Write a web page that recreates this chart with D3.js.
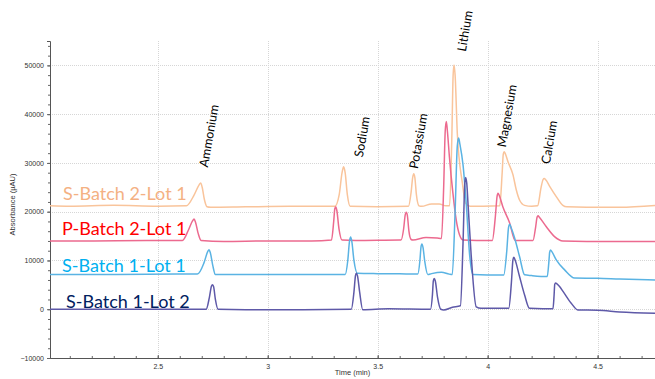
<!DOCTYPE html>
<html>
<head>
<meta charset="utf-8">
<script src="https://cdn.jsdelivr.net/npm/d3@7"></script>
<style>
  html, body { margin: 0; padding: 0; background: #fff; }
  svg { display: block; }
</style>
</head>
<body>
<svg id="chart" width="655" height="379"></svg>
<script>
// Sample names (drawn as labels next to each trace)
const sampleNames = ["S-Batch 2-Lot 1", "P-Batch 2-Lot 1", "S-Batch 1-Lot 1", "S-Batch 1-Lot 2"];

// [time (min), absorbance (µAU)]
const sBatch2Lot1 = [
  [2.01, 21200], [2.10, 21100], [2.30, 21300], [2.50, 21100], [2.63, 21200],
  [2.665, 23400], [2.688, 25500], [2.695, 25900], [2.702, 25000], [2.712, 22500], [2.724, 21000], [2.74, 20900],
  [2.90, 21000], [3.10, 21100], [3.305, 21100],
  [3.325, 23500], [3.338, 28000], [3.345, 29200], [3.352, 28000], [3.362, 23500], [3.375, 21100],
  [3.50, 21000], [3.64, 21100],
  [3.652, 24000], [3.659, 27000], [3.664, 27800], [3.669, 27000], [3.676, 23500], [3.688, 21200],
  [3.70, 21100], [3.745, 21600], [3.78, 21600], [3.81, 21200], [3.827, 21200],
  [3.837, 35000], [3.843, 48000], [3.847, 50100], [3.852, 48000], [3.862, 36100], [3.885, 25900], [3.90, 21700], [3.92, 21100],
  [3.98, 21100], [4.055, 21200],
  [4.066, 28000], [4.071, 31800], [4.075, 32300], [4.081, 31800], [4.092, 30300], [4.115, 27600], [4.13, 24500], [4.145, 22400], [4.168, 21300],
  [4.20, 21100], [4.227, 21200],
  [4.243, 25000], [4.252, 26600], [4.257, 26800], [4.265, 26500], [4.282, 25200], [4.312, 23100], [4.342, 21300], [4.36, 21000],
  [4.45, 20900], [4.60, 20900], [4.77, 21300]
];

const pBatch2Lot1 = [
  [2.01, 14000], [2.20, 14000], [2.45, 14100], [2.612, 14100],
  [2.64, 16300], [2.658, 18100], [2.665, 18500], [2.672, 17800], [2.684, 15500], [2.697, 14100],
  [2.80, 13900], [3.00, 14000], [3.20, 14000], [3.29, 14200],
  [3.30, 18000], [3.305, 20600], [3.309, 21000], [3.314, 20300], [3.324, 16500], [3.338, 14200],
  [3.40, 14100], [3.60, 14200], [3.606, 14200],
  [3.618, 16500], [3.625, 19300], [3.63, 19900], [3.635, 19200], [3.642, 16000], [3.652, 14300],
  [3.66, 14200], [3.72, 14700], [3.77, 14600], [3.79, 14500],
  [3.80, 25000], [3.807, 36500], [3.812, 38500], [3.817, 36500], [3.826, 31300], [3.842, 23800], [3.857, 18300], [3.872, 15250], [3.888, 14200],
  [3.95, 14100], [4.021, 14100],
  [4.035, 19000], [4.043, 23200], [4.047, 23800], [4.053, 23300], [4.069, 21000], [4.10, 17700], [4.125, 14100],
  [4.17, 14100], [4.206, 14100],
  [4.218, 16800], [4.225, 18900], [4.229, 19150], [4.236, 18800], [4.266, 16950], [4.304, 14900], [4.342, 14000],
  [4.45, 13900], [4.62, 13900], [4.77, 13900]
];

const sBatch1Lot1 = [
  [2.01, 7100], [2.30, 7100], [2.60, 7200], [2.68, 7200],
  [2.71, 9500], [2.727, 11800], [2.733, 12200], [2.739, 11600], [2.75, 9000], [2.762, 7100],
  [2.85, 7100], [3.10, 7100], [3.352, 7100],
  [3.364, 10000], [3.372, 14000], [3.377, 14800], [3.382, 14000], [3.392, 10000], [3.407, 7400],
  [3.50, 7300], [3.60, 7250], [3.682, 7200],
  [3.692, 10000], [3.697, 12800], [3.701, 13400], [3.706, 12700], [3.714, 9800], [3.728, 7100],
  [3.745, 7300], [3.79, 7600], [3.825, 7200], [3.839, 7100],
  [3.852, 20000], [3.862, 33500], [3.868, 35100], [3.874, 33800], [3.888, 29600], [3.903, 21400], [3.918, 11150], [3.933, 7100],
  [4.00, 7000], [4.073, 7000],
  [4.087, 12000], [4.095, 16800], [4.10, 17450], [4.106, 16800], [4.123, 14570], [4.145, 10800], [4.168, 7050],
  [4.20, 6900], [4.271, 6700],
  [4.278, 9500], [4.282, 11700], [4.286, 12170], [4.292, 11800], [4.312, 10120], [4.35, 8070], [4.395, 6400],
  [4.50, 6350], [4.60, 6200], [4.77, 6000]
];

const sBatch1Lot2 = [
  [2.01, 0], [2.30, 0], [2.60, 0], [2.72, 0],
  [2.735, 2500], [2.744, 4700], [2.749, 5000], [2.754, 4600], [2.762, 2000], [2.774, 0],
  [2.90, -100], [3.10, -100], [3.38, 0],
  [3.392, 3500], [3.399, 6900], [3.403, 7400], [3.408, 6900], [3.418, 3500], [3.432, -100],
  [3.55, 100], [3.74, 0],
  [3.749, 3000], [3.753, 5800], [3.757, 6300], [3.762, 5800], [3.772, 2500], [3.787, 0],
  [3.80, -150], [3.84, 400], [3.876, 700],
  [3.888, 13500], [3.896, 25800], [3.90, 27000], [3.905, 25800], [3.911, 21400], [3.925, 11150], [3.948, 500], [3.97, 200],
  [4.04, 200], [4.096, 200],
  [4.108, 5500], [4.115, 10100], [4.119, 10650], [4.124, 10200], [4.145, 6700], [4.168, 2900], [4.19, 200],
  [4.25, 100], [4.297, 100],
  [4.302, 2800], [4.305, 5100], [4.309, 5400], [4.315, 5200], [4.327, 4640], [4.345, 3500], [4.38, 1230], [4.41, -150],
  [4.50, -200], [4.60, -550], [4.77, -850]
];

// where each sample name sits, in data units
const sampleLabelTimes = [2.069, 2.065, 2.065, 2.083];
const sampleLabelValues = [22300, 15200, 7650, 270];

// peak names and their label anchors, in data units
const peakNames = ["Ammonium", "Sodium", "Potassium", "Lithium", "Magnesium", "Calcium"];
const peakLabelTimes = [2.727, 3.432, 3.682, 3.90, 4.082, 4.282];
const peakLabelValues = [29000, 31050, 28700, 52750, 33100, 29700];

const xTicks = [2.5, 3, 3.5, 4, 4.5];
const yTicks = [-10000, 0, 10000, 20000, 30000, 40000, 50000];

const lineColors = ["#f9c49b", "#ec6a8f", "#5ab3e3", "#5e59a8"];
const textColors = ["#f4b183", "#ff0000", "#00b0f0", "#002060"];

// Chart setup
const svg = d3.select("#chart");
const width = 655, height = 379;
const margin = { top: 41, right: -2, bottom: 21, left: 50 };

const x = d3.scaleLinear().domain([2.01, 4.77]).range([margin.left, width - margin.right]);
const y = d3.scaleLinear().domain([-10000, 55000]).range([height - margin.bottom, margin.top]);

// Gridlines
const grid = svg.append("g").attr("stroke", "#d6d6d6").attr("stroke-dasharray", "1,1").attr("stroke-width", 1);
grid.selectAll("line.gx").data(xTicks).join("line")
  .attr("x1", d => Math.round(x(d)) + 0.5).attr("x2", d => Math.round(x(d)) + 0.5)
  .attr("y1", margin.top).attr("y2", y(-10000));
grid.selectAll("line.gy").data(yTicks.filter(d => d > -10000)).join("line")
  .attr("x1", margin.left).attr("x2", width)
  .attr("y1", d => Math.round(y(d)) + 0.5).attr("y2", d => Math.round(y(d)) + 0.5);

// Axes
const tickFont = "Liberation Sans, Arial, sans-serif";
svg.append("g")
  .attr("transform", `translate(0,${y(-10000)})`)
  .call(d3.axisBottom(x).tickValues(xTicks).tickSize(-3).tickPadding(6).tickFormat(d3.format("")));
svg.append("g")
  .attr("transform", `translate(0,${y(-10000)})`)
  .call(d3.axisBottom(x).tickValues(d3.range(21, 48).map(d => d / 10)).tickSize(-2).tickFormat(""))
  .call(g => g.select(".domain").remove());

svg.append("g")
  .attr("transform", `translate(${margin.left},0)`)
  .call(d3.axisLeft(y).tickValues(yTicks).tickSize(3).tickPadding(3).tickFormat(d3.format("d")));
svg.append("g")
  .attr("transform", `translate(${margin.left},0)`)
  .call(d3.axisLeft(y).tickValues(d3.range(-10000, 55001, 2000)).tickSize(2).tickFormat(""))
  .call(g => g.select(".domain").remove());

svg.selectAll(".domain").attr("stroke", "#555");
svg.selectAll(".tick line").attr("stroke", "#666");
svg.selectAll(".tick text")
  .attr("font-family", tickFont).attr("font-size", 7).attr("fill", "#333");

// Axis titles
svg.append("text")
  .attr("x", (margin.left + width) / 2).attr("y", 375)
  .attr("text-anchor", "middle")
  .attr("font-family", tickFont).attr("font-size", 7.5).attr("fill", "#333")
  .text("Time (min)");
svg.append("text")
  .attr("transform", `translate(15,${(margin.top + y(-10000)) / 2 + 5}) rotate(-90)`)
  .attr("text-anchor", "middle")
  .attr("font-family", tickFont).attr("font-size", 7.5).attr("fill", "#333")
  .text("Absorbance (µAU)");

// Traces
const series = [sBatch2Lot1, pBatch2Lot1, sBatch1Lot1, sBatch1Lot2];
svg.append("clipPath").attr("id", "plot-clip")
  .append("rect").attr("x", margin.left).attr("y", margin.top - 5)
  .attr("width", width - margin.left).attr("height", y(-10000) - margin.top + 5);

const line = d3.line().x(d => x(d[0])).y(d => y(d[1])).curve(d3.curveMonotoneX);
svg.append("g").attr("clip-path", "url(#plot-clip)")
  .selectAll("path").data(series).join("path")
  .attr("fill", "none")
  .attr("stroke", (d, i) => lineColors[i])
  .attr("stroke-width", 1.5)
  .attr("stroke-linejoin", "round")
  .attr("d", line);

// Sample labels
svg.append("g").selectAll("text").data(sampleNames).join("text")
  .attr("x", (d, i) => x(sampleLabelTimes[i]))
  .attr("y", (d, i) => y(sampleLabelValues[i]))
  .attr("font-family", "Lato, Carlito, sans-serif")
  .attr("font-size", 18)
  .attr("fill", (d, i) => textColors[i])
  .text(d => d);

// Peak names, rotated
svg.append("g").selectAll("text").data(peakNames).join("text")
  .attr("transform", (d, i) => `translate(${x(peakLabelTimes[i])},${y(peakLabelValues[i])}) rotate(-80)`)
  .attr("font-family", "Lato, Carlito, sans-serif")
  .attr("font-size", 12.5)
  .attr("fill", "#000")
  .text(d => d);
</script>
</body>
</html>
